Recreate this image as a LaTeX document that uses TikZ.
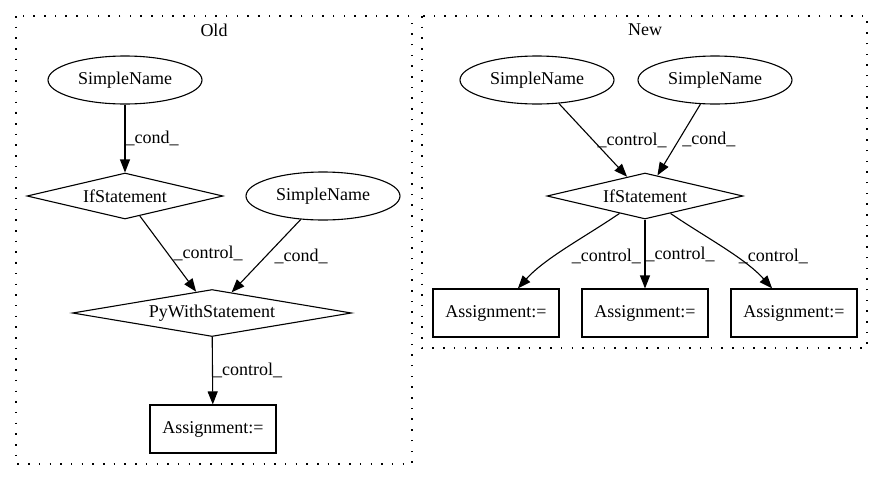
\documentclass[tikz,border=0pt]{standalone}
\usepackage{fontspec}
\setmainfont{Liberation Serif}
\usepackage{tikz}
\usetikzlibrary{shapes.geometric, arrows.meta, positioning}

\begin{document}
\begin{tikzpicture}[
    x=1pt, y=-1pt,
    every node/.style={font=\fontsize{18}{20}\selectfont},
    namebox/.style={ellipse, draw, line width=1.1pt, inner sep=0pt, minimum width=154pt, minimum height=48pt},
    condbox/.style={diamond, draw, line width=1.1pt, inner sep=0pt, aspect=4.26, minimum width=196pt, minimum height=46pt},
    assignbox/.style={rectangle, draw, line width=1.1pt, minimum width=126pt, minimum height=48pt},
    cluster/.style={draw, line width=1.3pt, dash pattern=on 1.5pt off 9.2pt},
    arrow/.style={-{Triangle[length=13pt, width=10pt]}, line width=1.1pt},
    lbl/.style={anchor=west, inner sep=0pt},
]
\useasboundingbox (0,0) rectangle (884,480);

% Old
\draw[cluster] (16,16) rectangle (412,464);
\node (oldtitle) at (214,30) {Old};
\node[namebox] (oldname1) at (125,80) {SimpleName};
\node[condbox] (oldif) at (125,196) {IfStatement};
\node[namebox] (oldname2) at (323,196) {SimpleName};
\node[condbox, aspect=5.9, minimum width=279pt, minimum height=47pt] (oldwith) at (212,313) {PyWithStatement};
\node[assignbox] (oldassign) at (213,429) {Assignment:=};
\draw[arrow] (oldname1) -- (oldif) node[lbl, midway] {\_cond\_};
\draw[arrow] (oldif) -- (oldwith) node[lbl, midway, xshift=5pt] {\_control\_};
\draw[arrow] (oldname2) -- (oldwith) node[lbl, midway, xshift=8pt] {\_cond\_};
\draw[arrow] (oldwith) -- (oldassign) node[lbl, midway] {\_control\_};

% New
\draw[cluster] (422,16) rectangle (867,348);
\node (newtitle) at (645,30) {New};
\node[namebox] (newname1) at (537,80) {SimpleName};
\node[namebox] (newname2) at (715,80) {SimpleName};
\node[condbox] (newif) at (645,196) {IfStatement};
\node[assignbox] (newassign1) at (496,313) {Assignment:=};
\node[assignbox] (newassign2) at (645,313) {Assignment:=};
\node[assignbox] (newassign3) at (794,313) {Assignment:=};
\draw[arrow] (newname1) -- (newif) node[lbl, midway, xshift=4pt] {\_control\_};
\draw[arrow] (newname2) -- (newif) node[lbl, midway, xshift=3pt] {\_cond\_};
\draw[arrow] (newif) .. controls (585,237) and (545,258) .. (newassign1)
    node[lbl, pos=0.45, xshift=0pt, yshift=-12pt] {\_control\_};
\draw[arrow] (newif) -- (newassign2) node[lbl, midway] {\_control\_};
\draw[arrow] (newif) .. controls (705,237) and (745,258) .. (newassign3)
    node[lbl, pos=0.55, xshift=9pt, yshift=-4pt] {\_control\_};
\end{tikzpicture}
\end{document}
